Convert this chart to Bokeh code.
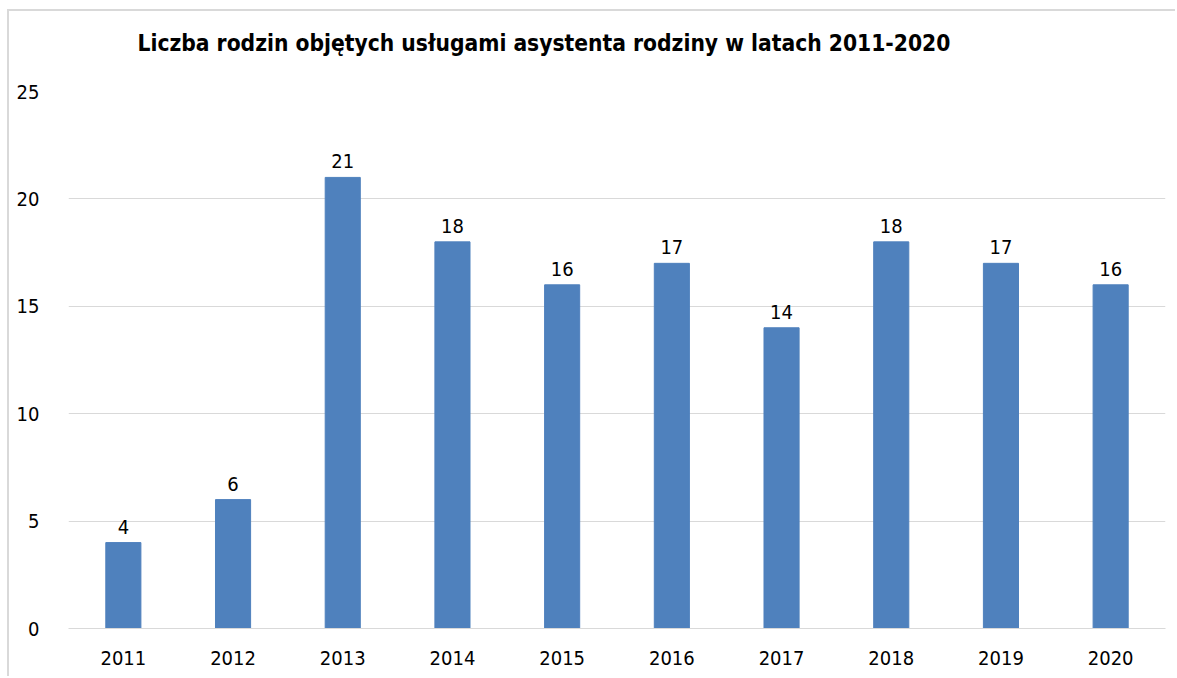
from bokeh.plotting import figure
from bokeh.models import ColumnDataSource, LabelSet, Range1d, FixedTicker, Title
from bokeh.core.properties import value
from bokeh.embed import file_html
from bokeh.resources import INLINE

years = ["2011", "2012", "2013", "2014", "2015", "2016", "2017", "2018", "2019", "2020"]
values = [4, 6, 21, 18, 16, 17, 14, 18, 17, 16]
y_ticks = [0, 5, 10, 15, 20, 25]
title_text = "Liczba rodzin objętych usługami asystenta rodziny w latach 2011-2020"

FONT = "DejaVu Sans Condensed"

src = ColumnDataSource(data=dict(years=years, values=values, labels=[str(v) for v in values]))

p = figure(x_range=years, y_range=Range1d(0, 25), width=1168, height=667,
           output_backend="svg", toolbar_location=None,
           min_border_left=59, min_border_right=12, min_border_top=80, min_border_bottom=50)

p.vbar(x="years", top="values", width=0.32, source=src, color="#4F81BD")

labels = LabelSet(x="years", y="values", text="labels", source=src, text_align="center",
                  text_baseline="bottom", y_offset=9, text_font_size=value("20px"),
                  text_font=value(FONT), text_color="#000000")
p.add_layout(labels)

# invisible spacer between the frame and the title
p.add_layout(Title(text=" ", text_font_size="1px", standoff=28), "above")

p.title.text = title_text
p.title.align = "left"
p.title.offset = 69
p.title.text_font = FONT
p.title.text_font_size = "22.6px"
p.title.text_font_style = "bold"
p.title.text_color = "#000000"
p.title.standoff = 10

p.yaxis.ticker = FixedTicker(ticks=y_ticks)
p.yaxis.axis_line_color = None
p.yaxis.major_tick_line_color = None
p.yaxis.minor_tick_line_color = None
p.yaxis.major_label_standoff = 23
p.yaxis.major_label_text_font = FONT
p.yaxis.major_label_text_font_size = "20px"
p.yaxis.major_label_text_color = "#000000"

p.xaxis.axis_line_color = "#d9d9d9"
p.xaxis.major_tick_line_color = None
p.xaxis.minor_tick_line_color = None
p.xaxis.major_label_standoff = 16
p.xaxis.major_label_text_font = FONT
p.xaxis.major_label_text_font_size = "20px"
p.xaxis.major_label_text_color = "#000000"

p.xgrid.grid_line_color = None
p.ygrid.grid_line_color = "#d9d9d9"
p.outline_line_color = None
p.x_range.range_padding = 0

p.styles = {"border-left": "2px solid #d9d9d9", "border-top": "2px solid #d9d9d9",
            "margin-left": "7px", "margin-top": "9px"}

open("out.html", "w").write(file_html(p, INLINE))
